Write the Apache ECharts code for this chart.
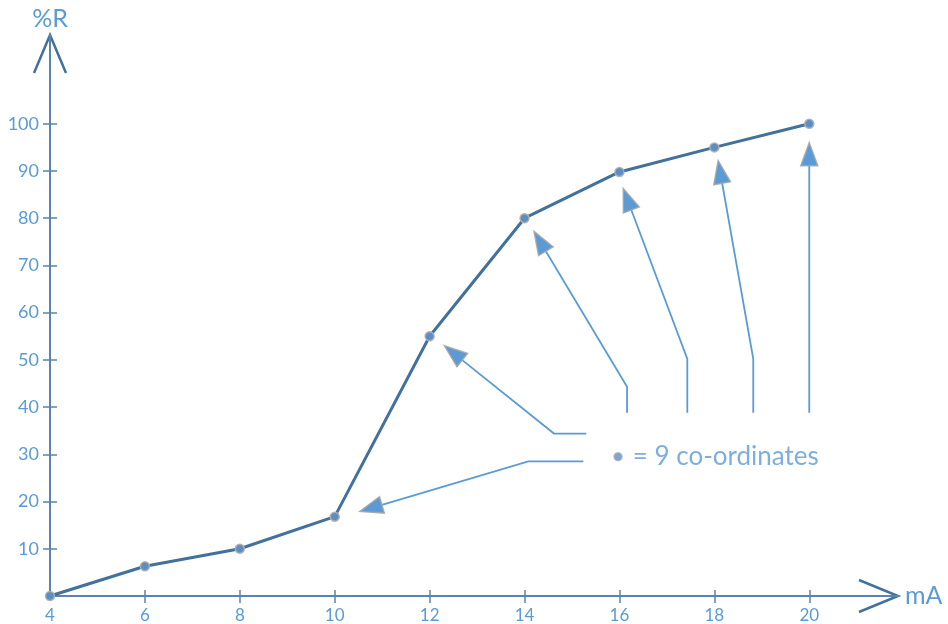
<!DOCTYPE html>
<html><head><meta charset="utf-8">
<script src="https://cdn.jsdelivr.net/npm/echarts@6/dist/echarts.min.js"></script>
<style>html,body{margin:0;padding:0;background:#fff}#c{width:948px;height:624px}</style>
</head><body><div id="c"></div>
<script>
// Data
const xValues = [4, 6, 8, 10, 12, 14, 16, 18, 20];
const yValues = [0, 6.3, 10, 16.8, 55, 80, 89.8, 95, 100];
const xTickLabels = [4, 6, 8, 10, 12, 14, 16, 18, 20];
const xTicks = [6, 8, 10, 12, 14, 16, 18, 20];
const yTickLabels = [10, 20, 30, 40, 50, 60, 70, 80, 90, 100];
const xName = 'mA';
const yName = '%R';
const noteText = '= 9 co-ordinates';
const notePoint = [15.97, 29.5];
// annotation arrows (data coordinates), last point = arrow tip
const arrow1 = [[15.24, 28.5], [14.08, 28.5], [10.53, 17.9]];
const arrow2 = [[15.30, 34.4], [14.62, 34.4], [12.31, 53.0]];
const arrow3 = [[16.16, 38.8], [16.16, 44.3], [14.20, 77.2]];
const arrow4 = [[17.43, 38.8], [17.43, 50.2], [16.08, 86.3]];
const arrow5 = [[18.82, 38.8], [18.82, 50.2], [18.08, 92.2]];
const arrow6 = [[20.0, 38.8], [20.0, 96.0]];

const X_MIN = 4, X_MAX = 21.87, Y_MIN = 0, Y_MAX = 118.8;
const axisColor = '#5a84ae';
const labelColor = '#5b9bd5';
const lineColor = '#41719c';
const font = 'Lato, "Liberation Sans", sans-serif';

const chart = echarts.init(document.getElementById('c'), null, {renderer: 'canvas'});
const pts = xValues.map((x, i) => [x, yValues[i]]);
const arrows = [arrow1, arrow2, arrow3, arrow4, arrow5, arrow6];

const baseX = {
  type: 'value', min: X_MIN, max: X_MAX, interval: 2,
  splitLine: {show: false},
  axisLine: {show: true, onZero: false, lineStyle: {color: axisColor, width: 2}},
};
const baseY = {
  type: 'value', min: Y_MIN, max: Y_MAX, interval: 10,
  splitLine: {show: false},
  axisLine: {show: true, onZero: false, lineStyle: {color: axisColor, width: 2}},
};

function renderArrow(params, api) {
  const a = arrows[api.value(2)];
  const p = a.map(c => api.coord(c));
  const tip = p[p.length - 1], prev = p[p.length - 2];
  const dx = tip[0] - prev[0], dy = tip[1] - prev[1];
  const len = Math.sqrt(dx * dx + dy * dy);
  const ux = dx / len, uy = dy / len;
  const headLen = 23, halfW = 8.5;
  const base = [tip[0] - ux * headLen, tip[1] - uy * headLen];
  const left = [base[0] - uy * halfW, base[1] + ux * halfW];
  const right = [base[0] + uy * halfW, base[1] - ux * halfW];
  const linePts = p.slice(0, -1).concat([base]);
  return {
    type: 'group',
    children: [
      {type: 'polyline', shape: {points: linePts}, style: {stroke: labelColor, lineWidth: 1.8, fill: null}},
      {type: 'polygon', shape: {points: [tip, left, right]},
        style: {fill: labelColor, stroke: 'rgba(165,165,165,0.85)', lineWidth: 1.5}}
    ]
  };
}

chart.setOption({
  animation: false,
  grid: {left: 50, right: 50, top: 35, bottom: 26, containLabel: false},
  xAxis: [
    Object.assign({}, baseX, {
      name: xName, nameLocation: 'end', nameGap: 7,
      nameTextStyle: {color: labelColor, fontSize: 25, fontFamily: font, verticalAlign: 'middle'},
      axisTick: {show: true, length: 7, inside: false, customValues: xTicks, lineStyle: {color: axisColor, width: 1.5}},
      axisLabel: {show: true, customValues: xTickLabels, color: labelColor, fontSize: 17, fontFamily: font, margin: 11}
    }),
    Object.assign({}, baseX, {
      axisLine: {show: false},
      axisTick: {show: true, length: 6, inside: true, customValues: xTicks, lineStyle: {color: axisColor, width: 1.5}},
      axisLabel: {show: false}, position: 'bottom'
    })
  ],
  yAxis: [
    Object.assign({}, baseY, {
      name: yName, nameLocation: 'end', nameGap: 4,
      nameTextStyle: {color: labelColor, fontSize: 25, fontFamily: font, align: 'center'},
      axisTick: {show: true, length: 7, inside: false, customValues: yTickLabels, lineStyle: {color: axisColor, width: 1.5}},
      axisLabel: {show: true, customValues: yTickLabels, color: labelColor, fontSize: 18, fontFamily: font, margin: 11}
    }),
    Object.assign({}, baseY, {
      axisLine: {show: false}, position: 'left',
      axisTick: {show: true, length: 7, inside: true, customValues: yTickLabels, lineStyle: {color: axisColor, width: 1.5}},
      axisLabel: {show: false}
    })
  ],
  series: [
    {
      type: 'custom', coordinateSystem: 'cartesian2d', renderItem: renderArrow,
      data: arrows.map((a, i) => [a[a.length - 1][0], a[a.length - 1][1], i]),
      encode: {x: 0, y: 1}, clip: false, silent: true, z: 3
    },
    {
      type: 'line', data: pts, symbol: 'circle', symbolSize: 9, showSymbol: true,
      lineStyle: {color: lineColor, width: 3},
      itemStyle: {color: '#5b8fc4', borderColor: 'rgba(175,175,175,0.9)', borderWidth: 1.5},
      z: 4
    },
    {
      type: 'scatter', data: [notePoint], symbol: 'circle', symbolSize: 8,
      itemStyle: {color: '#5b8fc4', borderColor: 'rgba(175,175,175,0.9)', borderWidth: 1.5},
      label: {show: true, position: 'right', distance: 10, formatter: noteText,
        color: labelColor, fontSize: 26, fontFamily: font}
    }
  ]
});

// open chevron arrowheads at the axis ends
function drawChevrons() {
  const xe = chart.convertToPixel({gridIndex: 0}, [X_MAX, Y_MIN]);
  const ye = chart.convertToPixel({gridIndex: 0}, [X_MIN, Y_MAX]);
  chart.setOption({
    graphic: [
      {type: 'polyline', shape: {points: [[xe[0] - 39, xe[1] - 16], xe, [xe[0] - 39, xe[1] + 16]]},
        style: {stroke: lineColor, lineWidth: 2.5, fill: null}},
      {type: 'polyline', shape: {points: [[ye[0] - 16, ye[1] + 38], ye, [ye[0] + 16, ye[1] + 38]]},
        style: {stroke: lineColor, lineWidth: 2.5, fill: null}}
    ]
  });
}
drawChevrons();
</script>
</body></html>
